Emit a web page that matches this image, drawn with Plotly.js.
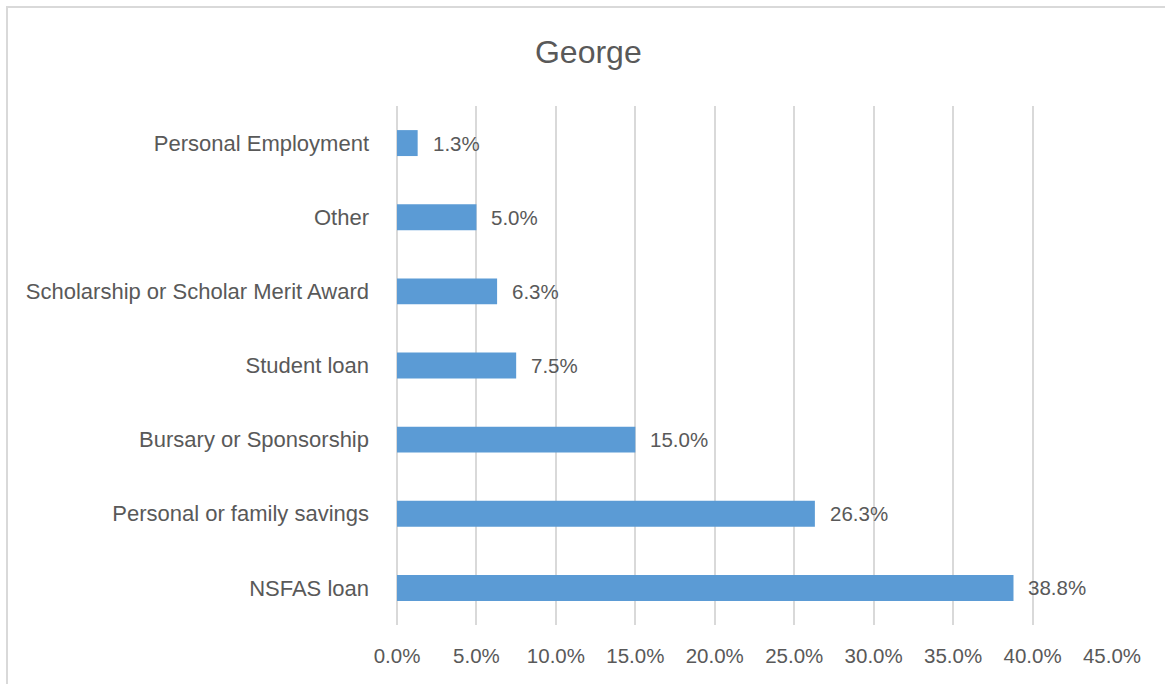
<!DOCTYPE html>
<html>
<head>
<meta charset="utf-8">
<script src="https://cdn.plot.ly/plotly-3.0.1.min.js"></script>
<style>
  html, body { margin: 0; padding: 0; background: #ffffff; }
  #wrap { position: relative; width: 1165px; height: 684px; overflow: hidden; }
  #chart { position: absolute; left: 0; top: 0; width: 1165px; height: 684px; }
  #frame { position: absolute; left: 6px; top: 6px; width: 1200px; height: 800px;
           border-left: 2px solid #d9d9d9; border-top: 2px solid #d9d9d9; pointer-events: none; }
</style>
</head>
<body>
<div id="wrap">
  <div id="chart"></div>
  <div id="frame"></div>
</div>
<script>
// Data (bottom to top as drawn)
const categories = [
  "NSFAS loan",
  "Personal or family savings",
  "Bursary or Sponsorship",
  "Student loan",
  "Scholarship or Scholar Merit Award",
  "Other",
  "Personal Employment"
];
const values = [38.8, 26.3, 15.0, 7.5, 6.3, 5.0, 1.3];
const valueLabels = ["38.8%", "26.3%", "15.0%", "7.5%", "6.3%", "5.0%", "1.3%"];
const tickValues = [0, 5, 10, 15, 20, 25, 30, 35, 40, 45];
const tickLabels = ["0.0%", "5.0%", "10.0%", "15.0%", "20.0%", "25.0%", "30.0%", "35.0%", "40.0%", "45.0%"];
const chartTitle = "George";

const textColor = "#595959";
const fontFamily = "Liberation Sans, Arial, sans-serif";

const trace = {
  type: "bar",
  orientation: "h",
  x: values,
  y: categories,
  marker: { color: "#5b9bd5", line: { width: 0 } },
  hoverinfo: "none"
};

const annotations = values.map((v, i) => ({
  x: v,
  y: categories[i],
  xref: "x",
  yref: "y",
  text: valueLabels[i],
  showarrow: false,
  xanchor: "left",
  yanchor: "middle",
  xshift: 13,
  font: { family: fontFamily, size: 20.5, color: textColor }
}));

const layout = {
  width: 1165,
  height: 684,
  paper_bgcolor: "#ffffff",
  plot_bgcolor: "#ffffff",
  margin: { l: 397, r: 53, t: 106, b: 59, pad: 0 },
  bargap: 0.65,
  showlegend: false,
  title: {
    text: chartTitle,
    font: { family: fontFamily, size: 32, color: textColor },
    x: 0.505,
    xanchor: "center",
    y: 0.924,
    yanchor: "middle",
    xref: "container",
    yref: "container"
  },
  xaxis: {
    range: [0, 45],
    tickvals: tickValues,
    ticktext: tickLabels,
    showgrid: true,
    gridcolor: "#d9d9d9",
    gridwidth: 2,
    zeroline: true,
    zerolinecolor: "#d9d9d9",
    zerolinewidth: 2,
    showline: false,
    ticks: "",
    ticklabelstandoff: 16,
    tickfont: { family: fontFamily, size: 20.5, color: textColor },
    fixedrange: true
  },
  yaxis: {
    type: "category",
    categoryorder: "array",
    categoryarray: categories,
    showgrid: false,
    zeroline: false,
    showline: false,
    ticks: "",
    ticklabelstandoff: 27,
    tickfont: { family: fontFamily, size: 22, color: textColor },
    fixedrange: true
  },
  annotations: annotations
};

Plotly.newPlot("chart", [trace], layout, { displayModeBar: false, staticPlot: true });
</script>
</body>
</html>
